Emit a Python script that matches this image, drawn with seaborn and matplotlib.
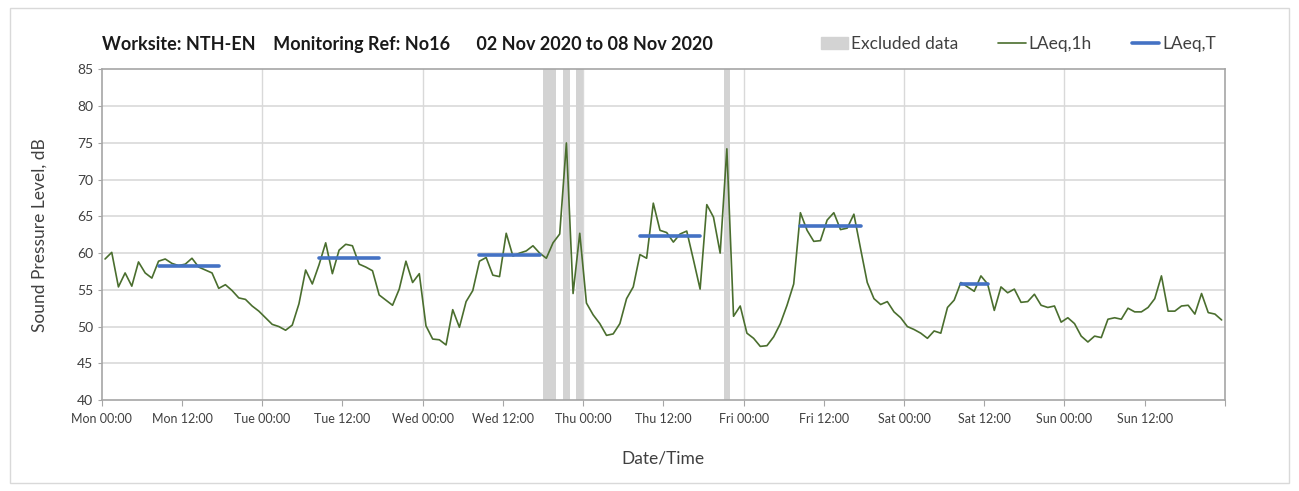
import numpy as np
import pandas as pd
import matplotlib
matplotlib.use('Agg')
import matplotlib.pyplot as plt
import matplotlib.patches as mpatches
from matplotlib.lines import Line2D
import seaborn as sns

# ---------- data ----------
# hourly LAeq,1h values, Mon 00:00 .. Sun 23:00 (one per hour)
laeq_1h = [
    59.2, 60.1, 55.4, 57.3, 55.5, 58.8, 57.3, 56.6, 58.9, 59.2, 58.6, 58.3,
    58.5, 59.3, 58.1, 57.7, 57.3, 55.2, 55.7, 54.9, 53.9, 53.7, 52.8, 52.1,
    51.2, 50.3, 50.0, 49.5, 50.2, 53.1, 57.7, 55.8, 58.4, 61.4, 57.2, 60.4,
    61.2, 61.0, 58.5, 58.1, 57.6, 54.3, 53.6, 52.9, 55.1, 58.9, 56.0, 57.2,
    50.1, 48.3, 48.2, 47.5, 52.3, 49.9, 53.4, 54.9, 58.9, 59.4, 57.0, 56.8,
    62.7, 59.6, 60.0, 60.3, 61.0, 60.0, 59.3, 61.4, 62.6, 75.0, 54.5, 62.7,
    53.2, 51.6, 50.4, 48.8, 49.0, 50.4, 53.8, 55.4, 59.8, 59.3, 66.8, 63.1,
    62.8, 61.5, 62.6, 63.0, 59.1, 55.1, 66.6, 64.9, 60.0, 74.2, 51.4, 52.8,
    49.1, 48.4, 47.3, 47.4, 48.6, 50.4, 52.9, 55.8, 65.5, 63.1, 61.6, 61.7,
    64.5, 65.5, 63.2, 63.4, 65.3, 60.6, 56.0, 53.8, 53.0, 53.4, 52.0, 51.2,
    50.0, 49.6, 49.1, 48.4, 49.4, 49.1, 52.6, 53.6, 56.0, 55.4, 54.8, 56.9,
    55.8, 52.2, 55.4, 54.6, 55.1, 53.3, 53.4, 54.4, 52.9, 52.6, 52.8, 50.6,
    51.2, 50.4, 48.7, 47.9, 48.7, 48.5, 51.0, 51.2, 51.0, 52.5, 52.0, 52.0,
    52.6, 53.8, 56.9, 52.1, 52.1, 52.8, 52.9, 51.7, 54.5, 51.9, 51.7, 50.9,
]

# LAeq,T over the daytime period of each working day
period_days = ['Mon', 'Tue', 'Wed', 'Thu', 'Fri', 'Sat']
period_start_h = [8, 8, 8, 8, 8, 8]      # first hour of period
period_end_h = [17, 17, 17, 17, 17, 12]  # last hour of period
laeq_t = [58.3, 59.3, 59.8, 62.3, 63.7, 55.8]

# excluded data windows, hours from Mon 00:00
excl_start = [66, 69, 71, 93]
excl_end = [68, 70, 72, 94]

day_names = ['Mon', 'Tue', 'Wed', 'Thu', 'Fri', 'Sat', 'Sun']
tick_labels = [f'{d} {t}' for d in day_names for t in ('00:00', '12:00')]

# ---------- build frames ----------
hourly = pd.DataFrame({'hour': np.arange(len(laeq_1h)) + 0.5, 'level': laeq_1h})

day_index = {d: i for i, d in enumerate(day_names)}
rows = []
for d, s, e, v in zip(period_days, period_start_h, period_end_h, laeq_t):
    base = 24 * day_index[d]
    rows.append({'day': d, 'hour': base + s + 0.5, 'level': v})
    rows.append({'day': d, 'hour': base + e + 0.5, 'level': v})
periods = pd.DataFrame(rows)

# ---------- plot ----------
sns.set_style('white')
plt.rcParams['font.family'] = ['Lato', 'DejaVu Sans']

green = '#4a6e2e'
blue = '#4472c4'
band_grey = '#d3d3d3'
axis_grey = '#a6a6a6'
grid_grey = '#d9d9d9'

fig = plt.figure(figsize=(12.99, 4.91), dpi=100)
ax = fig.add_axes([0.0783, 0.1853, 0.8647, 0.6732])

for s, e in zip(excl_start, excl_end):
    ax.axvspan(s, e, color=band_grey, lw=0, zorder=1)

sns.lineplot(data=hourly, x='hour', y='level', ax=ax, color=green, lw=1.2,
             zorder=3, legend=False)
sns.lineplot(data=periods, x='hour', y='level', units='day', estimator=None,
             ax=ax, color=blue, lw=2.6, zorder=4, legend=False)

ax.set_xlim(0, 168)
ax.set_ylim(40, 85)
ax.set_yticks(range(40, 86, 5))
ax.set_xticks(range(0, 169, 12))
ax.set_xticklabels(tick_labels + [''])

# gridlines: horizontal every 5 dB, vertical once per day
for y in range(45, 85, 5):
    ax.axhline(y, color=grid_grey, lw=1.2, zorder=0)
for x in range(24, 168, 24):
    ax.axvline(x, color=grid_grey, lw=1.0, zorder=0)

for sp in ax.spines.values():
    sp.set_color(axis_grey)
    sp.set_linewidth(1.2)

ax.tick_params(axis='x', direction='out', length=4, color=axis_grey,
               labelsize=9, labelcolor='#404040', pad=5)
ax.tick_params(axis='y', direction='out', length=3, color=axis_grey,
               labelsize=10, labelcolor='#404040', pad=3)
ax.tick_params(bottom=True, left=True)

ax.set_xlabel('Date/Time', fontsize=12.5, color='#404040', labelpad=19)
ax.set_ylabel('Sound Pressure Level, dB', fontsize=12.5, color='#404040',
              labelpad=21)

fig.text(0.0783, 0.91,
         'Worksite: NTH-EN    Monitoring Ref: No16      02 Nov 2020 to 08 Nov 2020',
         fontsize=13, fontweight='bold', color='#1a1a1a', va='center')

handles = [
    mpatches.Patch(color=band_grey, label='Excluded data'),
    Line2D([], [], color=green, lw=1.2, label='LAeq,1h'),
    Line2D([], [], color=blue, lw=2.6, label='LAeq,T'),
]
fig.legend(handles=handles, loc='center right', bbox_to_anchor=(0.948, 0.91),
           ncol=3, frameon=False, fontsize=12.5, handlelength=1.6,
           handletextpad=0.15, columnspacing=2.3, labelcolor='#404040')

# light outer frame like the source chart
fig.patches.append(mpatches.Rectangle((0.008, 0.016), 0.984, 0.968,
                                      transform=fig.transFigure, fill=False,
                                      edgecolor='#d9d9d9', lw=1.0))

fig.savefig('out.png', dpi=100)
